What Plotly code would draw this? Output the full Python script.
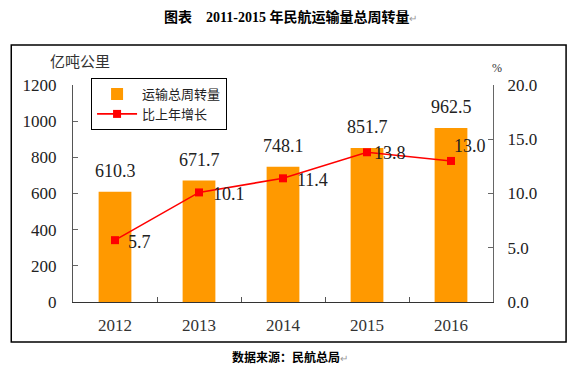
import plotly.graph_objects as go

years = ["2012", "2013", "2014", "2015", "2016"]
turnover = [610.3, 671.7, 748.1, 851.7, 962.5]
growth = [5.7, 10.1, 11.4, 13.8, 13.0]
left_ticks = [0, 200, 400, 600, 800, 1000, 1200]
right_ticks = [0, 5, 10, 15, 20]

# label offsets (pixels) for growth labels
g_xshift = [11, 12, 12, 5, 1]
g_yshift = [-2, -2, -2, -1, 15]

SERIF = "Liberation Serif, Noto Sans CJK SC, serif"
CJK = "Noto Sans CJK SC, sans-serif"

fig = go.Figure()
fig.add_trace(go.Bar(
    x=years, y=turnover, name="运输总周转量",
    marker=dict(color="#FF9900", line=dict(width=0)),
    width=0.39, yaxis="y",
))
fig.add_trace(go.Scatter(
    x=years, y=growth, name="比上年增长", yaxis="y2",
    mode="lines+markers",
    line=dict(color="#FF0000", width=1.6),
    marker=dict(symbol="square", size=8, color="#FF0000"),
))

annotations = []
for i, v in enumerate(turnover):
    annotations.append(dict(x=i, y=v, xref="x", yref="y", text=f"{v:.1f}",
                            showarrow=False, xanchor="center", yanchor="bottom", yshift=9,
                            font=dict(family=SERIF, size=18, color="#222")))
for i, (v, xs, ys) in enumerate(zip(growth, g_xshift, g_yshift)):
    annotations.append(dict(x=i, y=v, xref="x", yref="y2", text=f"{v:.1f}",
                            showarrow=False, xanchor="left", yanchor="middle",
                            xshift=xs, yshift=ys,
                            font=dict(family=SERIF, size=18, color="#222")))

annotations += [
    dict(x=0.517, y=1.313, xref="paper", yref="paper", showarrow=False,
         xanchor="center", yanchor="middle",
         text="<b>图表    2011-2015 年民航运输量总周转量</b><span style='color:#999;font-size:10px'>↵</span>",
         font=dict(family=SERIF, size=14, color="#000")),
    dict(x=0.017, y=1.115, xref="paper", yref="paper", showarrow=False,
         xanchor="center", yanchor="middle",
         text="亿吨公里", font=dict(family=CJK, size=15, color="#333")),
    dict(x=1.0095, y=1.078, xref="paper", yref="paper", showarrow=False,
         xanchor="center", yanchor="middle",
         text="%", font=dict(family=SERIF, size=12, color="#333")),
    dict(x=0.517, y=-0.253, xref="paper", yref="paper", showarrow=False,
         xanchor="center", yanchor="middle",
         text="<b>数据来源：民航总局</b><span style='color:#999;font-size:10px'>↵</span>",
         font=dict(family=CJK, size=12, color="#000")),
]

shapes = [dict(type="rect", xref="paper", yref="paper",
               x0=-0.147, x1=1.174, y0=-0.184, y1=1.184,
               line=dict(color="#000", width=1.5), fillcolor="rgba(0,0,0,0)")]

fig.update_layout(
    width=579, height=365,
    margin=dict(l=73, r=86, t=85, b=63),
    paper_bgcolor="white", plot_bgcolor="white",
    showlegend=True,
    legend=dict(x=0.043, y=1.032, xanchor="left", yanchor="top",
                bgcolor="white", bordercolor="#000", borderwidth=1,
                font=dict(family=CJK, size=13, color="#222"),
                tracegroupgap=0, itemwidth=40, traceorder="normal"),
    xaxis=dict(type="category", showline=True, linecolor="#333", linewidth=1,
               ticks="inside", ticklen=5, tickcolor="#555", tickson="boundaries",
               showgrid=False, tickfont=dict(family=SERIF, size=17, color="#333"),
               ticklabelstandoff=8, range=[-0.5, 4.5]),
    yaxis=dict(range=[0, 1200], tickvals=left_ticks, showline=True, linecolor="#555",
               linewidth=1, ticks="inside", ticklen=5, tickcolor="#666", showgrid=False,
               zeroline=False, tickfont=dict(family=SERIF, size=17, color="#222"),
               ticklabelstandoff=12),
    yaxis2=dict(range=[0, 20], tickvals=right_ticks, tickformat=".1f", overlaying="y",
                side="right", showline=True, linecolor="#666", linewidth=1,
                ticks="inside", ticklen=5, tickcolor="#666", showgrid=False,
                zeroline=False, tickfont=dict(family=SERIF, size=17, color="#222"),
                ticklabelstandoff=10),
    annotations=annotations,
    shapes=shapes,
    bargap=0.6,
)

fig.write_html("out.html", config={"displayModeBar": False},
               post_script="document.body.style.margin='0';")
